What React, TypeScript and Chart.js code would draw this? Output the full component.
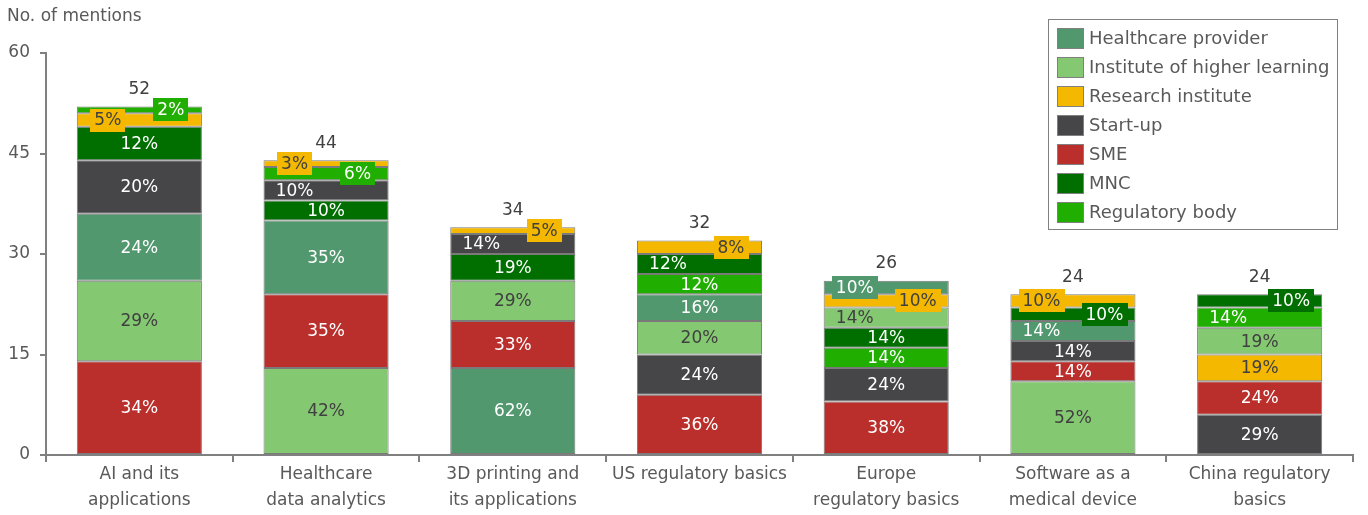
import { useEffect, useRef } from 'react';
import { Chart, registerables } from 'chart.js';

Chart.register(...registerables);

// ---------- data ----------
const categories: (string | string[])[] = [
  ['AI and its', 'applications'],
  ['Healthcare', 'data analytics'],
  ['3D printing and', 'its applications'],
  'US regulatory basics',
  ['Europe', 'regulatory basics'],
  ['Software as a', 'medical device'],
  ['China regulatory', 'basics'],
];

const stakeholders = [
  'Healthcare provider',
  'Institute of higher learning',
  'Research institute',
  'Start-up',
  'SME',
  'MNC',
  'Regulatory body',
];

// number of mentions per stakeholder type, per category
const healthcareProvider = [10, 11, 13, 4, 2, 3, 0];
const instituteHigherLearning = [12, 13, 6, 5, 3, 11, 4];
const researchInstitute = [2, 1, 1, 2, 2, 2, 4];
const startUp = [8, 3, 3, 6, 5, 3, 6];
const sme = [14, 11, 7, 9, 8, 3, 5];
const mnc = [5, 3, 4, 3, 3, 2, 2];
const regulatoryBody = [1, 2, 0, 3, 3, 0, 3];

// percentage labels shown inside segments
const pctHealthcareProvider = [24, 35, 62, 16, 10, 14, null];
const pctInstitute = [29, 42, 29, 20, 14, 52, 19];
const pctResearch = [5, 3, 5, 8, 10, 10, 19];
const pctStartUp = [20, 10, 14, 24, 24, 14, 29];
const pctSme = [34, 35, 33, 36, 38, 14, 24];
const pctMnc = [12, 10, 19, 12, 14, 10, 10];
const pctRegulatory = [2, 6, null, 12, 14, null, 14];

// stacking order (bottom to top) of stakeholder indices for each category
const stackOrder = [
  [4, 1, 0, 3, 5, 2, 6],
  [1, 4, 0, 5, 3, 6, 2],
  [0, 4, 1, 5, 3, 2],
  [4, 3, 1, 0, 6, 5, 2],
  [4, 3, 6, 5, 1, 2, 0],
  [1, 4, 3, 0, 5, 2],
  [3, 4, 2, 1, 6, 5],
];

const yTicks = [0, 15, 30, 45, 60];

// ---------- styling ----------
const colors = ['#52986F', '#85C872', '#F5B800', '#464649', '#BA2F2B', '#006F00', '#20AF00'];
const darkText = [false, true, true, false, false, false, false];
// label placement per category per stakeholder: c=center, l=left, r=right, b=boxed
const labelPlacement = [
  ['c', 'c', 'lb', 'c', 'c', 'c', 'rb'],
  ['c', 'c', 'lb', 'l', 'c', 'c', 'rb'],
  ['c', 'c', 'rb', 'l', 'c', 'c', 'c'],
  ['c', 'c', 'rb', 'c', 'c', 'l', 'c'],
  ['lb', 'l', 'rb', 'c', 'c', 'c', 'c'],
  ['l', 'c', 'lb', 'c', 'c', 'rb', 'c'],
  ['c', 'c', 'c', 'c', 'c', 'rb', 'l'],
];

const FONT = '"DejaVu Sans", sans-serif';
const TEXT = '#595959';
const DARK = '#404040';
const AXIS = '#808080';

const counts = [
  healthcareProvider,
  instituteHigherLearning,
  researchInstitute,
  startUp,
  sme,
  mnc,
  regulatoryBody,
];
const pcts = [
  pctHealthcareProvider,
  pctInstitute,
  pctResearch,
  pctStartUp,
  pctSme,
  pctMnc,
  pctRegulatory,
];

function buildFloating(): ([number, number] | null)[][] {
  const out: ([number, number] | null)[][] = stakeholders.map(() => categories.map(() => null));
  stackOrder.forEach((order, ci) => {
    let base = 0;
    order.forEach((si) => {
      const v = counts[si][ci];
      if (v > 0) {
        out[si][ci] = [base, base + v];
        base += v;
      }
    });
  });
  return out;
}

const labelsPlugin = {
  id: 'segmentLabels',
  afterDatasetsDraw(chart: any) {
    const ctx = chart.ctx;
    ctx.save();
    ctx.textBaseline = 'middle';
    ctx.textAlign = 'center';
    ctx.font = `17px ${FONT}`;
    chart.data.datasets.forEach((ds: any, si: number) => {
      const meta = chart.getDatasetMeta(si);
      meta.data.forEach((el: any, ci: number) => {
        if (!ds.data[ci]) return;
        const p = pcts[si][ci];
        if (p == null) return;
        const txt = `${p}%`;
        const place = labelPlacement[ci][si];
        let x = el.x;
        if (place.includes('l')) x -= 31.5;
        if (place.includes('r')) x += 31.5;
        const y = (el.y + el.base) / 2;
        if (place.includes('b')) {
          const w = ctx.measureText(txt).width + 8;
          ctx.fillStyle = colors[si];
          ctx.fillRect(Math.round(x - w / 2), Math.round(y - 11.5), Math.round(w), 23);
        }
        ctx.fillStyle = darkText[si] ? DARK : '#FFFFFF';
        ctx.fillText(txt, x, y + 1);
      });
    });
    // totals
    ctx.fillStyle = DARK;
    ctx.font = `17px ${FONT}`;
    categories.forEach((_, ci) => {
      const total = counts.reduce((s, arr) => s + arr[ci], 0);
      const x = chart.scales.x.getPixelForValue(ci);
      const y = chart.scales.y.getPixelForValue(total);
      ctx.fillText(String(total), x, y - 17);
    });
    ctx.restore();
  },
  afterDraw(chart: any) {
    const ctx = chart.ctx;
    ctx.save();
    // title
    ctx.fillStyle = TEXT;
    ctx.font = `17px ${FONT}`;
    ctx.textAlign = 'left';
    ctx.textBaseline = 'middle';
    ctx.fillText('No. of mentions', 7, 17);
    // legend
    const lx = 1048.5, ly = 19.5, lw = 289, lh = 210;
    ctx.fillStyle = '#FFFFFF';
    ctx.fillRect(lx, ly, lw, lh);
    ctx.strokeStyle = AXIS;
    ctx.lineWidth = 1;
    ctx.strokeRect(lx, ly, lw, lh);
    ctx.font = `18px ${FONT}`;
    stakeholders.forEach((name, i) => {
      const cy = 38 + i * 29;
      ctx.fillStyle = colors[i];
      ctx.fillRect(1057, cy - 10, 26, 20);
      ctx.strokeStyle = AXIS;
      ctx.strokeRect(1057.5, cy - 9.5, 26, 20);
      ctx.fillStyle = TEXT;
      ctx.fillText(name, 1089, cy + 1);
    });
    ctx.restore();
  },
};

export default function App() {
  const ref = useRef<HTMLCanvasElement | null>(null);
  useEffect(() => {
    document.body.style.margin = '0';
    if (!ref.current) return;
    const floating = buildFloating();
    const chart = new Chart(ref.current, {
      type: 'bar',
      data: {
        labels: categories as any,
        datasets: stakeholders.map((name, si) => ({
          label: name,
          data: floating[si] as any,
          backgroundColor: colors[si],
          borderColor: '#7A7A7A',
          borderWidth: 1,
          borderSkipped: false,
          grouped: false,
          barPercentage: 0.67,
          categoryPercentage: 1,
        })),
      },
      options: {
        animation: false,
        responsive: true,
        maintainAspectRatio: false,
        layout: { padding: { top: 53, right: 15, left: 0, bottom: 0 } },
        plugins: {
          legend: { display: false },
          tooltip: { enabled: false },
          title: { display: false },
        },
        scales: {
          x: {
            stacked: true,
            offset: true,
            afterFit(scale: any) {
              scale.height = 60;
            },
            border: { display: true, color: AXIS, width: 2 },
            grid: {
              offset: true,
              drawOnChartArea: false,
              drawTicks: true,
              tickLength: 7,
              color: AXIS,
              lineWidth: 2,
            },
            ticks: {
              color: TEXT,
              font: { family: FONT, size: 17, lineHeight: 1.53 },
              padding: 0,
              maxRotation: 0,
              autoSkip: false,
            },
          },
          y: {
            stacked: false,
            min: 0,
            max: 60,
            afterFit(scale: any) {
              scale.width = 46;
            },
            afterBuildTicks(scale: any) {
              scale.ticks = yTicks.map((v) => ({ value: v }));
            },
            border: { display: true, color: AXIS, width: 2 },
            grid: {
              drawOnChartArea: false,
              drawTicks: true,
              tickLength: 6,
              color: AXIS,
              lineWidth: 2,
            },
            ticks: {
              color: TEXT,
              font: { family: FONT, size: 17 },
              padding: 10,
            },
          },
        },
      },
      plugins: [labelsPlugin],
    });
    return () => chart.destroy();
  }, []);
  return (
    <div style={{ width: 1368, height: 515, position: 'relative' }}>
      <canvas ref={ref} />
    </div>
  );
}
